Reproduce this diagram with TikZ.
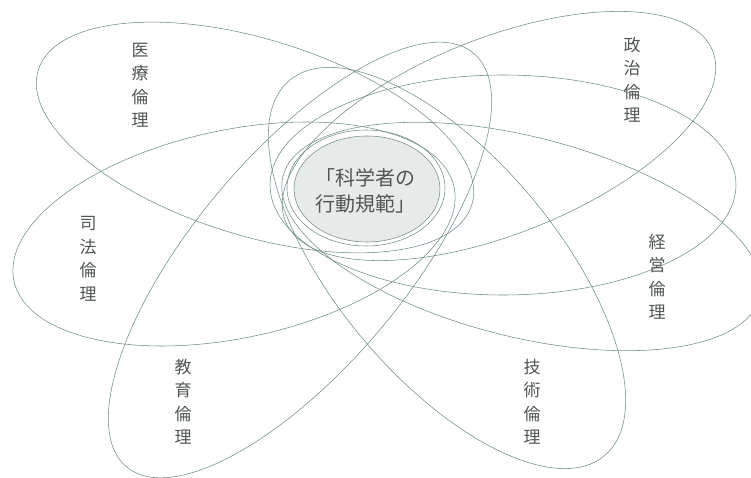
\documentclass[tikz,border=0pt]{standalone}
\usepackage{fontspec}
\newfontfamily\jp{Noto Sans CJK JP}
\definecolor{ln}{HTML}{6F8E89}
\definecolor{tx}{HTML}{505656}
\definecolor{cf}{HTML}{E6EAE8}
\newcommand\petal[5]{\draw[petal, shift={(#1,477-#2)}, rotate=#5] (0,0) ellipse [x radius=#3pt, y radius=#4pt];}
\begin{document}
\begin{tikzpicture}[x=1pt,y=1pt,
  petal/.style={draw=ln, line width=0.55pt},
  lab/.style={text=tx, font=\jp\fontsize{17}{23.5}\selectfont, align=center, inner sep=0pt},
  mid/.style={text=tx, font=\jp\fontsize{20}{26}\selectfont, align=center, inner sep=0pt}]
\useasboundingbox (0,0) rectangle (751,477);
\fill[white] (0,0) rectangle (751,477);
% central
\fill[cf] (367,477-189) ellipse [x radius=73pt, y radius=53pt];
\draw[petal] (367,477-189) ellipse [x radius=73pt, y radius=53pt];
\draw[petal] (366,477-188) ellipse [x radius=79pt, y radius=58pt];
% petals
\petal{255}{137.5}{227}{98}{-17.3}   % medical
\petal{499}{136}{230}{98}{21.7}      % politics
\petal{234}{234}{225}{104}{12}       % law
\petal{521.5}{236.5}{246}{100}{-14.2}% business
\petal{300}{260}{270}{106}{50}       % education
\petal{447}{268}{245}{110}{-50}      % technology
\petal{503}{185}{233}{110}{0}        % unlabeled
% labels
\node[mid] (core) at (365,477-191) {「科学者の\\行動規範」};
\node[lab] (iryo) at (140,477-85) {医\\療\\倫\\理};
\node[lab] (seiji) at (632,477-80) {政\\治\\倫\\理};
\node[lab] (shiho) at (88,477-259) {司\\法\\倫\\理};
\node[lab] (keiei) at (657,477-277) {経\\営\\倫\\理};
\node[lab] (kyoiku) at (183,477-402) {教\\育\\倫\\理};
\node[lab] (gijutsu) at (532,477-402) {技\\術\\倫\\理};
\end{tikzpicture}
\end{document}
